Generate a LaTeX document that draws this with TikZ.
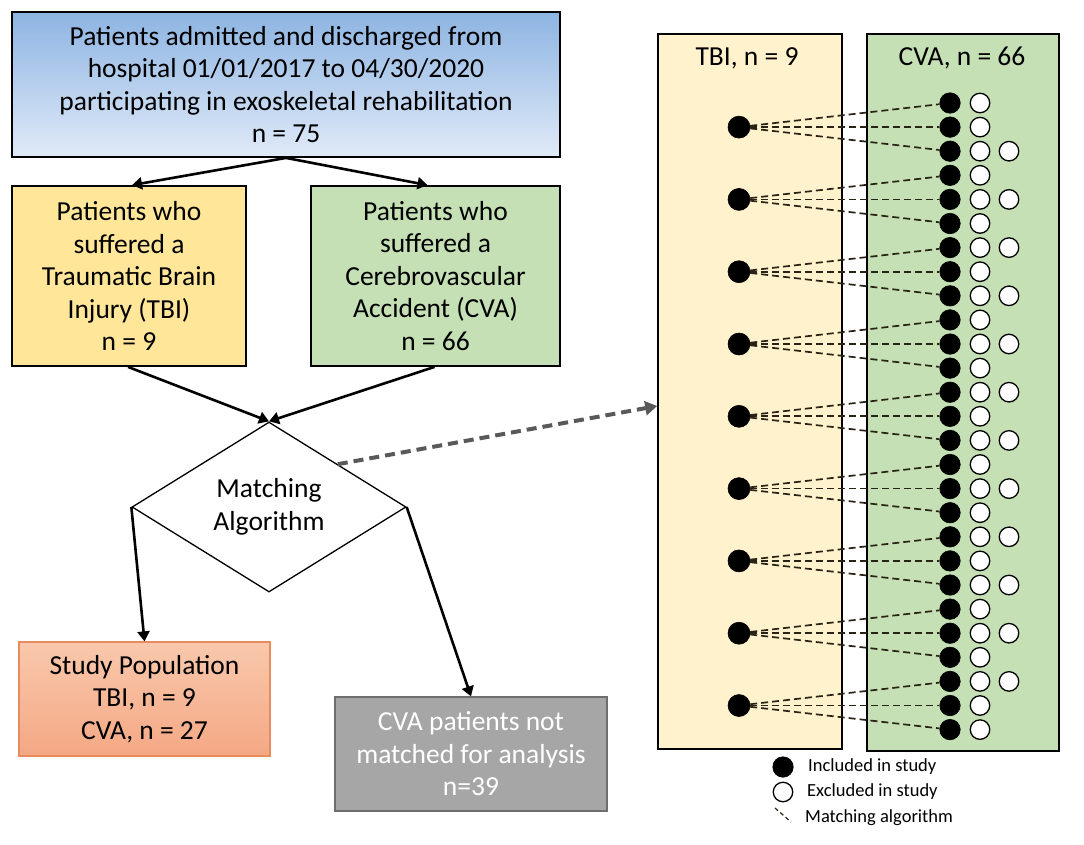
\documentclass[tikz,border=0pt]{standalone}
\usepackage{fontspec}
\setmainfont{Carlito}
\usetikzlibrary{shapes.geometric,arrows.meta,calc}

\definecolor{topblueA}{RGB}{141,180,226}
\definecolor{topblueB}{RGB}{224,234,248}
\definecolor{tbiyellow}{RGB}{255,230,153}
\definecolor{cvagreen}{RGB}{197,224,180}
\definecolor{salmonA}{RGB}{249,200,172}
\definecolor{salmonB}{RGB}{244,168,132}
\definecolor{salmonBorder}{RGB}{232,140,95}
\definecolor{greyfill}{RGB}{166,166,166}
\definecolor{greyborder}{RGB}{110,110,110}
\definecolor{panelyellow}{RGB}{255,242,204}
\definecolor{dasharrow}{RGB}{89,89,89}
\definecolor{matchcol}{RGB}{40,35,20}

\begin{document}
\begin{tikzpicture}[x=1pt,y=-1pt,
  txt/.style={font=\fontsize{27.5}{32.5}\selectfont, align=center},
  box/.style={txt, draw=black, line width=1.8pt, inner sep=0pt},
  flow/.style={-{Triangle[length=10pt,width=12pt]}, line width=2.6pt, black},
  panel/.style={draw=black, line width=1.6pt, inner sep=0pt},
  incl/.style={circle, fill=black, draw=black, line width=0.6pt, minimum size=20.5pt, inner sep=0pt},
  excl/.style={circle, fill=white, draw=black, line width=1.3pt, minimum size=19.5pt, inner sep=0pt},
  matchline/.style={draw=matchcol, line width=1.7pt, dash pattern=on 7pt off 4pt},
  legtxt/.style={font=\fontsize{18.5}{22}\selectfont, anchor=west, inner sep=0pt}
]
\useasboundingbox (0,0) rectangle (1084,844);

% ---------- left flow chart ----------
\node[box, top color=topblueA, bottom color=topblueB, minimum width=548pt, minimum height=145pt]
  (top) at (286,84.5) {Patients admitted and discharged from\\hospital 01/01/2017 to 04/30/2020\\participating in exoskeletal rehabilitation\\n = 75};

\node[box, fill=tbiyellow, minimum width=234pt, minimum height=180pt]
  (tbi) at (129,276) {Patients who\\suffered a\\Traumatic Brain\\Injury (TBI)\\n = 9};

\node[box, fill=cvagreen, minimum width=249pt, minimum height=180pt]
  (cva) at (435.5,276) {Patients who\\suffered a\\Cerebrovascular\\Accident (CVA)\\n = 66};

\node[txt, shape=diamond, draw=black, line width=1.3pt, fill=white, inner sep=0pt,
  minimum width=274pt, minimum height=170pt] (match) at (269,507) {Matching\\Algorithm};

\node[txt, draw=salmonBorder, line width=1.2pt, top color=salmonA, bottom color=salmonB,
  minimum width=251pt, minimum height=114pt, inner sep=0pt]
  (study) at (144.5,699) {Study Population\\TBI, n = 9\\CVA, n = 27};

\node[txt, draw=greyborder, line width=1.2pt, fill=greyfill, text=white,
  minimum width=272pt, minimum height=114pt, inner sep=0pt]
  (grey) at (471,754) {CVA patients not\\matched for analysis\\n=39};

\draw[flow] (top.south) -- ([xshift=3pt]tbi.north);
\draw[flow] (top.south) -- ([xshift=-8pt]cva.north);
\draw[flow] ([xshift=-1pt]tbi.south) -- (match.north);
\draw[flow] ([xshift=-1pt]cva.south) -- (match.north);
\draw[flow] (match.west) -- (study.north);
\draw[flow] (match.east) -- (grey.north);

% ---------- right panels ----------
\node[panel, fill=panelyellow, minimum width=184pt, minimum height=715pt] (tbipanel) at (750,391.5) {};
\node[panel, fill=cvagreen, minimum width=192pt, minimum height=717pt] (cvapanel) at (963,392.5) {};
\node[txt] (tbititle) at (747,58) {TBI, n = 9};
\node[txt] (cvatitle) at (962,58) {CVA, n = 66};

\draw[dasharrow, line width=4pt, dash pattern=on 10pt off 6pt,
  -{Triangle[length=12pt,width=14pt]}] (match.north east) -- ([yshift=-14.5pt]tbipanel.west);

% dots
\foreach \k in {0,...,26} {
  \node[incl] (b\k) at (950,{103+24.1*\k}) {};
  \node[excl] (w\k) at (980,{103+24.1*\k}) {};
}
\foreach \k in {2,4,...,24} {
  \node[excl] (c\k) at (1009,{103+24.1*\k}) {};
}
\foreach \j in {0,...,8} {
  \node[incl, minimum size=22pt] (t\j) at (739,{103+24.1*(3*\j+1)}) {};
}
\foreach \j in {0,...,8} {
  \pgfmathtruncatemacro{\ka}{3*\j}
  \pgfmathtruncatemacro{\kb}{3*\j+1}
  \pgfmathtruncatemacro{\kc}{3*\j+2}
  \draw[matchline] (t\j) -- (b\ka);
  \draw[matchline] (t\j) -- (b\kb);
  \draw[matchline] (t\j) -- (b\kc);
}

% ---------- legend ----------
\node[incl] (leginc) at (783,767) {};
\node[excl] (legexc) at (783,792) {};
\coordinate (legA) at (775,808);
\coordinate (legB) at (791,822);
\draw[draw=matchcol, line width=1.2pt, dash pattern=on 4pt off 3pt] (legA) -- (legB);
\node[legtxt] (legt1) at (808,767) {Included in study};
\node[legtxt] (legt2) at (807,792) {Excluded in study};
\node[legtxt] (legt3) at (805,818) {Matching algorithm};
\end{tikzpicture}
\end{document}
